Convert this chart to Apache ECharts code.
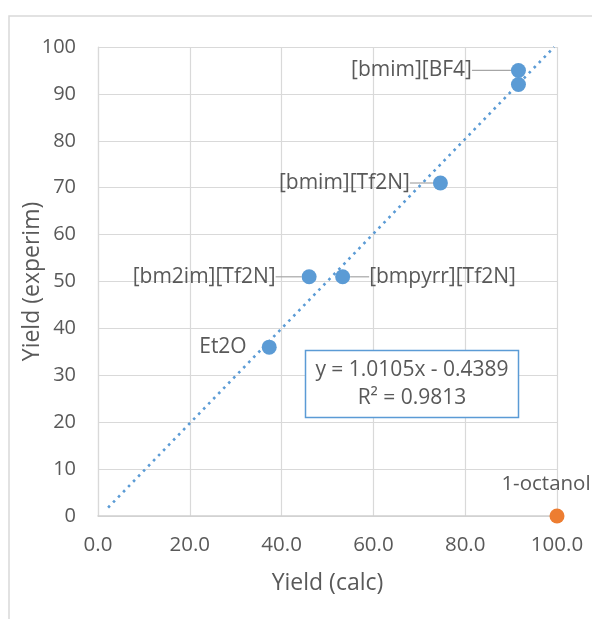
<!DOCTYPE html>
<html>
<head>
<meta charset="utf-8">
<script src="https://cdn.jsdelivr.net/npm/echarts@6/dist/echarts.min.js"></script>
<style>html,body{margin:0;padding:0;background:#fff;}#c{width:592px;height:619px;}</style>
</head>
<body>
<div id="c"></div>
<script>
// ---- data ----
var solventNames = ['[bmim][BF4]', '[bmim][BF4]', '[bmim][Tf2N]', '[bmpyrr][Tf2N]', '[bm2im][Tf2N]', 'Et2O'];
var yieldCalc    = [91.6, 91.6, 74.6, 53.3, 46.0, 37.3];
var yieldExperim = [95, 92, 71, 51, 51, 36];
var showLabel    = [true, false, true, true, true, true];
var outlierName  = ['1-octanol'];
var outlierCalc  = [100.0];
var outlierExp   = [0];
var trendSlope = 1.0105;
var trendIntercept = -0.4389;
var trendXRange = [2.2, 99.4];
var xTicks = {min: 0, max: 100, interval: 20};
var yTicks = {min: 0, max: 100, interval: 10};
var eqLine1 = 'y = 1.0105x - 0.4389';
var eqLine2 = 'R² = 0.9813';

// ---- style helpers (not data) ----
var labelStyle = {
  '[bmim][BF4]':   {pos: 'left',  dx: -34},
  '[bmim][Tf2N]':  {pos: 'left',  dx: -18},
  '[bmpyrr][Tf2N]':{pos: 'right', dx: 14},
  '[bm2im][Tf2N]': {pos: 'left',  dx: -21},
  'Et2O':          {pos: 'left',  dx: -10}
};

var FONT = 'Open Sans';
var TXT = '#595959';
var BLUE = '#5b9bd5';
var ORANGE = '#ed7d31';

var mainData = solventNames.map(function (n, i) {
  var ls = labelStyle[n];
  return {
    name: n,
    value: [yieldCalc[i], yieldExperim[i]],
    label: {show: showLabel[i], position: ls.pos},
    labelLine: {show: showLabel[i] && Math.abs(ls.dx) > 12}
  };
});
var outData = outlierName.map(function (n, i) {
  return {name: n, value: [outlierCalc[i], outlierExp[i]]};
});
var trendData = trendXRange.map(function (x) { return [x, trendSlope * x + trendIntercept]; });

var chart = echarts.init(document.getElementById('c'), null, {renderer: 'canvas'});
chart.setOption({
  animation: false,
  backgroundColor: '#fff',
  textStyle: {fontFamily: FONT},
  grid: {left: 98, right: 35, top: 47, bottom: 103, containLabel: false},
  graphic: [
    {type: 'rect', silent: true, z: -10,
     shape: {x: 9, y: 16, width: 800, height: 800},
     style: {fill: 'none', stroke: '#d9d9d9', lineWidth: 1.5}},
    {type: 'rect', silent: true, z: 100,
     shape: {x: 305.5, y: 350.5, width: 213, height: 67},
     style: {fill: '#fff', stroke: BLUE, lineWidth: 1.5}},
    {type: 'text', silent: true, z: 101,
     style: {x: 412, y: 370, text: eqLine1, font: '21px "' + FONT + '"', fill: TXT,
             align: 'center', verticalAlign: 'middle'}},
    {type: 'text', silent: true, z: 101,
     style: {x: 412, y: 398, text: eqLine2, font: '21px "' + FONT + '"', fill: TXT,
             align: 'center', verticalAlign: 'middle'}}
  ],
  xAxis: {
    type: 'value', min: xTicks.min, max: xTicks.max, interval: xTicks.interval,
    name: 'Yield (calc)', nameLocation: 'middle', nameGap: 56, nameMoveOverlap: false,
    nameTextStyle: {color: TXT, fontSize: 23, fontFamily: FONT},
    axisLine: {show: true, lineStyle: {color: '#d0d0d0', width: 1.5}},
    axisTick: {show: false},
    axisLabel: {color: TXT, fontSize: 20.5, margin: 19, fontFamily: FONT,
                formatter: function (v) { return v.toFixed(1); }},
    splitLine: {show: true, lineStyle: {color: '#d9d9d9', width: 1.2}}
  },
  yAxis: {
    type: 'value', min: yTicks.min, max: yTicks.max, interval: yTicks.interval,
    name: 'Yield (experim)', nameLocation: 'middle', nameGap: 54, nameRotate: 90,
    nameMoveOverlap: false,
    nameTextStyle: {color: TXT, fontSize: 23, fontFamily: FONT},
    axisLine: {show: true, lineStyle: {color: '#d9d9d9', width: 1.2}},
    axisTick: {show: false},
    axisLabel: {color: TXT, fontSize: 20, margin: 22, fontFamily: FONT},
    splitLine: {show: true, lineStyle: {color: '#d9d9d9', width: 1.2}}
  },
  series: [
    {
      type: 'line', data: trendData, symbol: 'none', silent: true, z: 1,
      lineStyle: {color: BLUE, width: 2.6, type: [2.6, 4.6], cap: 'butt'}
    },
    {
      type: 'scatter', data: mainData, symbolSize: 15, z: 3,
      itemStyle: {color: BLUE, opacity: 1},
      label: {formatter: '{b}', color: TXT, fontSize: 21, fontFamily: FONT, distance: 5},
      labelLine: {lineStyle: {color: '#a6a6a6', width: 1.2}, length2: 0},
      labelLayout: function (p) {
        var n = solventNames[p.dataIndex];
        return {dx: labelStyle[n].dx};
      }
    },
    {
      type: 'scatter', data: outData, symbolSize: 15, z: 3,
      itemStyle: {color: ORANGE, opacity: 1},
      label: {show: true, position: 'top', formatter: '{b}', color: TXT, fontSize: 20.5,
              fontFamily: FONT, distance: 14, offset: [-11, 0]}
    }
  ]
});
</script>
</body>
</html>
